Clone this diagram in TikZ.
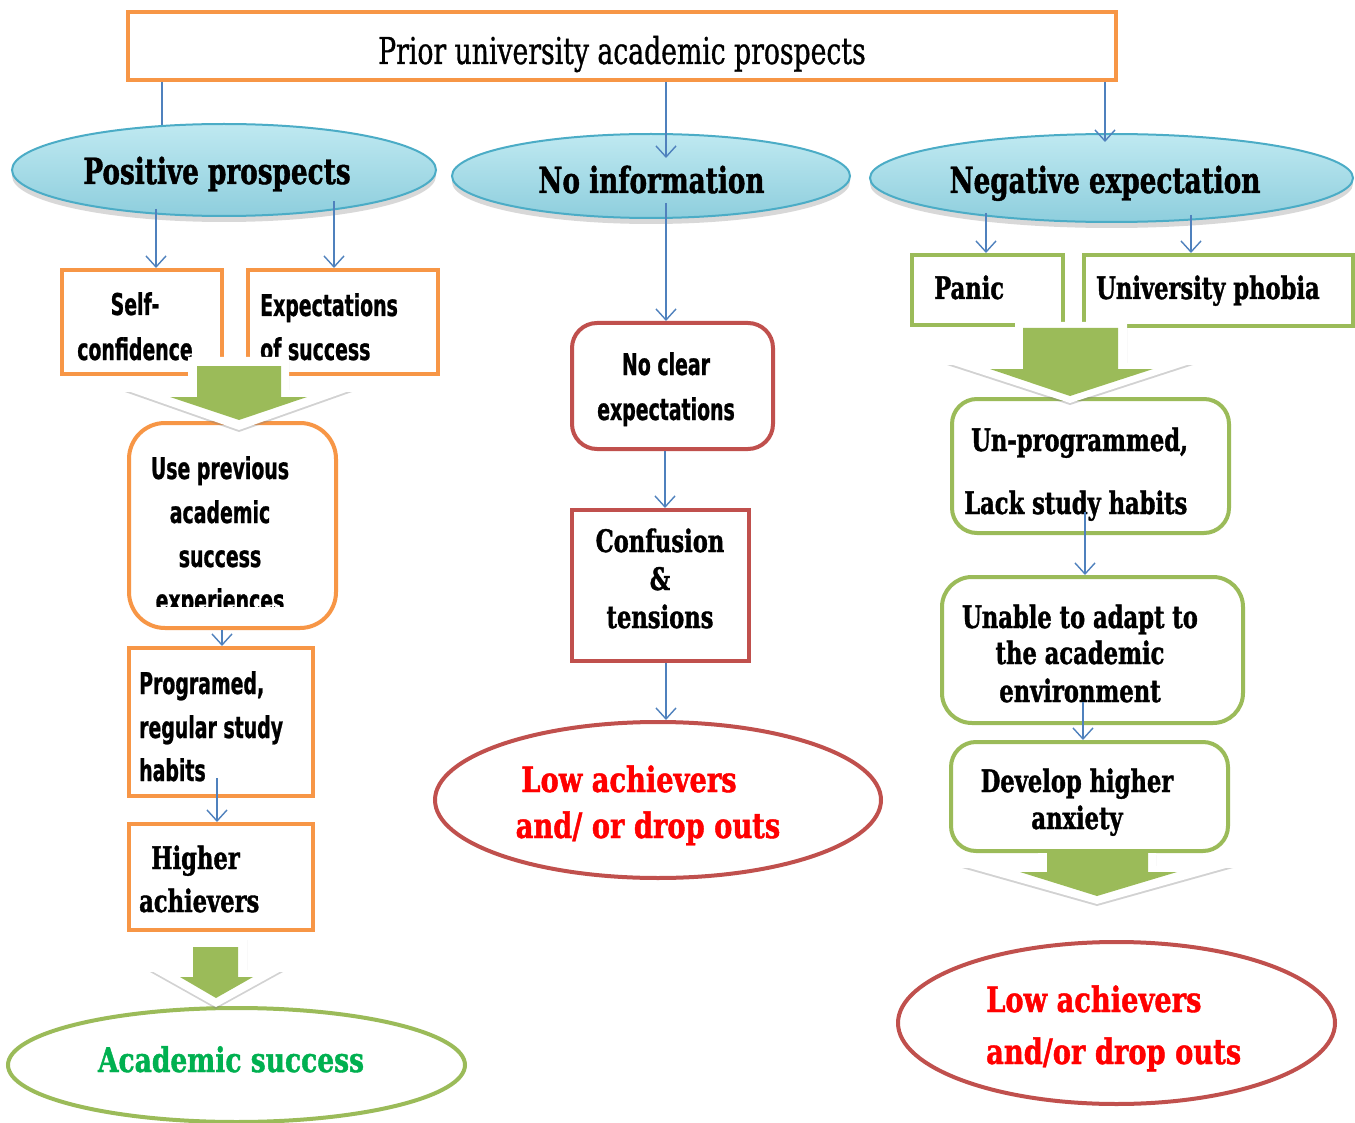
\documentclass[tikz,border=0pt]{standalone}
\usepackage{fontspec}
\newfontfamily\slab{DejaVu Serif}[FakeStretch=0.73,FakeBold=1.2]
\newfontfamily\slabw{DejaVu Serif}[FakeStretch=0.78,FakeBold=1.2]
\newfontfamily\agency{DejaVu Sans}[FakeStretch=0.63,FakeBold=0.8]
\newfontfamily\ttl{DejaVu Serif}[FakeStretch=0.72,FakeBold=0.9]
\usetikzlibrary{shapes.geometric,arrows.meta,shadows}
\definecolor{orng}{HTML}{F79646}
\definecolor{rbrown}{HTML}{C0504D}
\definecolor{grn}{HTML}{9BBB59}
\definecolor{lnblue}{HTML}{4F81BD}
\definecolor{teal1}{HTML}{4BACC6}
\definecolor{cyanA}{HTML}{BFE9F1}
\definecolor{cyanB}{HTML}{8ECEDD}
\definecolor{txtred}{HTML}{FF0000}
\definecolor{txtgrn}{HTML}{00B050}
\begin{document}
\begin{tikzpicture}[x=1pt,y=-1pt,
  ob/.style={rectangle,draw=orng,line width=4pt,fill=white,inner sep=0pt},
  rb/.style={rectangle,draw=rbrown,line width=4pt,fill=white,inner sep=0pt},
  gb/.style={rectangle,draw=grn,line width=4pt,fill=white,inner sep=0pt},
  blueell/.style={ellipse,draw=teal1,line width=2pt,top color=cyanA,bottom color=cyanB,inner sep=0pt,
     drop shadow={opacity=0.3,shadow xshift=0pt,shadow yshift=-6pt}},
  endell/.style={ellipse,line width=4pt,fill=white,inner sep=0pt},
  conn/.style={draw=lnblue,line width=1.4pt,-{Straight Barb[length=11pt,width=20pt,line width=1.4pt]}},
  plainconn/.style={draw=lnblue,line width=1.4pt},
  ttltxt/.style={font=\ttl\fontsize{37}{40}\selectfont,anchor=base,inner sep=0pt},
  elltxt/.style={font=\slab\bfseries\fontsize{36}{40}\selectfont,anchor=base,inner sep=0pt},
  boxtxt/.style={font=\slab\bfseries\fontsize{31}{36}\selectfont,anchor=base,inner sep=0pt},
  agtxt/.style={font=\agency\bfseries\fontsize{30}{34}\selectfont,anchor=base,inner sep=0pt},
  redtxt/.style={font=\slabw\bfseries\fontsize{35}{38}\selectfont,anchor=base,inner sep=0pt,text=txtred},
  grntxt/.style={font=\slabw\bfseries\fontsize{34}{38}\selectfont,anchor=base,inner sep=0pt,text=txtgrn},
  whitearr/.style={fill=white,drop shadow={opacity=0.35,shadow xshift=0pt,shadow yshift=-2pt}},
  greenarr/.style={fill=grn}
]
\fill[white] (0,0) rectangle (1355,1123);
\useasboundingbox (0,0) rectangle (1355,1123);

% top box
\node[ob,minimum width=988pt,minimum height=68pt] (top) at (622,46) {};
\node[ttltxt] (toptxt) at (622,64) {Prior university academic prospects};

% hidden connector under the Positive ellipse
\draw[plainconn] (top.south -| 162,0) -- (162,140);

% blue ellipses
\node[blueell,minimum width=424pt,minimum height=92pt] (pos) at (224,170) {};
\node[blueell,minimum width=398pt,minimum height=84pt] (noinfo) at (651,176) {};
\node[blueell,minimum width=483pt,minimum height=88pt] (neg) at (1111.5,178) {};
\node[elltxt] (postxt) at (217,184) {Positive prospects};
\node[elltxt] (noinfotxt) at (651.5,193) {No information};
\node[elltxt] (negtxt) at (1105,193) {Negative expectation};

% left column
\node[ob,minimum width=160pt,minimum height=104pt] (self) at (142,322) {};
\node[agtxt] (selfa) at (135,315) {Self-};
\node[agtxt] (selfb) at (135,360) {confidence};
\node[ob,minimum width=190pt,minimum height=104pt] (exp) at (343,322) {};
\node[agtxt,anchor=base west] (expa) at (260,316) {Expectations};
\node[agtxt,anchor=base west] (expb) at (260,360) {of success};

\node[ob,rounded corners=36pt,minimum width=207pt,minimum height=205pt] (useprev) at (232.5,525.5) {};
\node[agtxt] (usea) at (220,479) {Use previous};
\node[agtxt] (useb) at (220,523) {academic};
\node[agtxt] (usec) at (220,567) {success};
\begin{scope}
\clip (130,425) rectangle (336,606);
\node[agtxt] (used) at (220,611) {experiences};
\end{scope}

\node[ob,minimum width=184pt,minimum height=148pt] (prog) at (221,722) {};
\node[agtxt,anchor=base west] (proga) at (139,694) {Programed,};
\node[agtxt,anchor=base west] (progb) at (139,738) {regular study};
\node[agtxt,anchor=base west] (progc) at (139,781) {habits};

\node[ob,minimum width=184pt,minimum height=106pt] (higher) at (221,877) {};
\node[boxtxt,anchor=base west] (highera) at (151,869) {Higher};
\node[boxtxt,anchor=base west] (higherb) at (139,912) {achievers};

\node[endell,draw=grn,minimum width=457pt,minimum height=114pt] (acad) at (236.5,1065) {};
\node[grntxt] (acadtxt) at (231,1072) {Academic success};

% middle column
\node[rb,rounded corners=25pt,minimum width=201pt,minimum height=126pt] (noclear) at (672.5,386) {};
\node[agtxt] (noclra) at (666,375) {No clear};
\node[agtxt] (noclrb) at (666,420) {expectations};
\node[rb,minimum width=177pt,minimum height=151pt] (conf) at (660.5,585.5) {};
\node[boxtxt] (confa) at (660,552) {Confusion};
\node[boxtxt] (confb) at (660,590) {\&};
\node[boxtxt] (confc) at (660,628) {tensions};
\node[endell,draw=rbrown,minimum width=446pt,minimum height=156pt] (lowa) at (658,800) {};
\node[redtxt] (lowaa) at (629,792) {Low achievers};
\node[redtxt] (lowab) at (648,838) {and/ or drop outs};

% right column
\node[gb,minimum width=151pt,minimum height=70pt] (panic) at (987.5,290) {};
\node[boxtxt,anchor=base west] (panictxt) at (934,299) {Panic};
\node[gb,minimum width=269pt,minimum height=71pt] (phobia) at (1218.5,290.5) {};
\node[boxtxt,anchor=base west] (phobiatxt) at (1096,299) {University phobia};

\node[gb,rounded corners=25pt,minimum width=277pt,minimum height=134pt] (unprog) at (1090.5,466) {};
\node[boxtxt,anchor=base west] (unproga) at (971,451) {Un-programmed,};
\node[boxtxt,anchor=base west] (unprogb) at (964,514) {Lack study habits};

\node[gb,rounded corners=30pt,minimum width=301pt,minimum height=146pt] (unable) at (1092.5,650) {};
\node[boxtxt] (unablea) at (1080,628) {Unable to adapt to};
\node[boxtxt] (unableb) at (1080,664) {the academic};
\node[boxtxt] (unablec) at (1080,702) {environment};

\node[gb,rounded corners=25pt,minimum width=277pt,minimum height=109pt] (develop) at (1089.5,796.5) {};
\node[boxtxt] (developa) at (1077,792) {Develop higher};
\node[boxtxt] (developb) at (1077,829) {anxiety};

\node[endell,draw=rbrown,minimum width=437pt,minimum height=162pt] (lowb) at (1116.5,1023) {};
\node[redtxt,anchor=base west] (lowba) at (986,1012) {Low achievers};
\node[redtxt,anchor=base west] (lowbb) at (986,1064) {and/or drop outs};

% block arrows
\fill[whitearr] (188,357) -- (289,357) -- (289,390) -- (352,390) -- (239,430) -- (125,390) -- (188,390) -- cycle;
\fill[greenarr] (197,366) -- (281,366) -- (281,397) -- (307,397) -- (239,420) -- (170,397) -- (197,397) -- cycle;

\fill[whitearr] (1015,322) -- (1127,322) -- (1127,363) -- (1193,363) -- (1070,403) -- (947,363) -- (1015,363) -- cycle;
\fill[greenarr] (1023,328) -- (1118,328) -- (1118,369) -- (1153,369) -- (1070,396) -- (990,369) -- (1023,369) -- cycle;

\fill[whitearr] (185,938) -- (247,938) -- (247,970) -- (283,970) -- (216,1007) -- (150,970) -- (185,970) -- cycle;
\fill[greenarr] (193,947) -- (238,947) -- (238,977) -- (253,977) -- (216,998) -- (180,977) -- (193,977) -- cycle;

\fill[whitearr] (1038,853) -- (1156,853) -- (1156,866) -- (1233,866) -- (1097,904) -- (962,866) -- (1038,866) -- cycle;
\fill[greenarr] (1047,853) -- (1148,853) -- (1148,872) -- (1177,872) -- (1097,896) -- (1020,872) -- (1047,872) -- cycle;

% connectors
\draw[conn] (top.south -| 666,0) -- (666,158);
\draw[conn] (top.south -| 1105,0) -- (1105,142);
\draw[conn] ([yshift=8pt]pos.south -| 156,0) -- (self.north -| 156,0);
\draw[conn] ([yshift=16pt]pos.south -| 334,0) -- (exp.north -| 334,0);
\draw[conn] ([yshift=16pt]noinfo.south -| 666,0) -- (noclear.north -| 666,0);
\draw[conn] (noclear.south -| 665,0) -- (conf.north -| 665,0);
\draw[conn] (conf.south -| 666,0) -- (lowa.north -| 666,0);
\draw[conn] ([yshift=10pt]neg.south -| 986,0) -- (panic.north -| 986,0);
\draw[conn] ([yshift=8pt]neg.south -| 1191,0) -- (phobia.north -| 1191,0);
\draw[conn] (useprev.south -| 222,0) -- (prog.north -| 222,0);
\draw[conn] ([yshift=20pt]prog.south -| 217,0) -- (higher.north -| 217,0);
\draw[conn] ([yshift=23pt]unprog.south -| 1085,0) -- (unable.north -| 1085,0);
\draw[conn] ([yshift=23pt]unable.south -| 1083,0) -- (develop.north -| 1083,0);
\end{tikzpicture}
\end{document}
